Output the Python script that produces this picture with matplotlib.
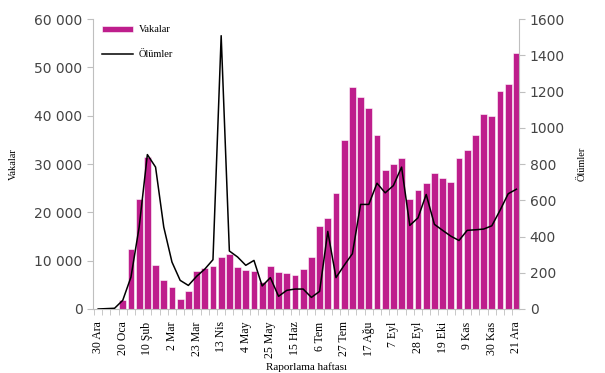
import numpy as np
import matplotlib
matplotlib.use("Agg")
import matplotlib.pyplot as plt
from matplotlib.ticker import FuncFormatter, FixedLocator

# weekly reporting data, week 0 = 30 Ara
cases = [0, 0, 0, 1800, 12500, 22800, 31400, 9000, 6000, 4550,
         2070, 3700, 7800, 8550, 8900, 10700, 11400, 8760, 8070, 7930,
         5520, 8900, 7660, 7520, 6970, 8180, 10830, 17250, 18770, 24080,
         35000, 46000, 43800, 41500, 36100, 28800, 29900, 31300, 22800, 24650,
         26150, 28150, 27050, 26350, 31300, 32900, 35900, 40400, 39900, 45200,
         46650, 52900]
deaths = [0, 2, 4, 48, 176, 452, 852, 783, 452, 259,
          158, 130, 180, 220, 272, 1508, 320, 287, 241, 268,
          127, 173, 70, 103, 110, 110, 64, 97, 428, 173,
          241, 305, 577, 577, 694, 641, 681, 783, 461, 503,
          632, 467, 434, 402, 378, 434, 437, 441, 459, 544,
          636, 661]
tick_labels = ["30 Ara", "20 Oca", "10 Şub", "2 Mar", "23 Mar", "13 Nis",
               "4 May", "25 May", "15 Haz", "6 Tem", "27 Tem", "17 Ağu",
               "7 Eyl", "28 Eyl", "19 Eki", "9 Kas", "30 Kas", "21 Ara"]

weeks = np.arange(len(cases))
bar_color = "#BE1E8C"
grey = "#BFBFBF"
serif = "Liberation Serif"

fig = plt.figure(figsize=(6.05, 3.73), dpi=100)
ax = fig.add_axes([0.1537, 0.1716, 0.7046, 0.7774])
ax2 = ax.twinx()

bars = ax.bar(weeks, cases, width=0.82, color=bar_color, edgecolor="white",
              linewidth=0.4, label="Vakalar", zorder=2)
line, = ax2.plot(weeks, deaths, color="black", lw=1.1, label="Ölümler", zorder=3)

ax.set_xlim(-0.63, 51.35)
ax.set_ylim(0, 60000)
ax2.set_ylim(0, 1600)
ax.set_yticks(np.arange(0, 60001, 10000))
ax2.set_yticks(np.arange(0, 1601, 200))
ax.yaxis.set_major_formatter(FuncFormatter(lambda v, p: f"{int(v):,}".replace(",", " ")))

ax.set_xticks(weeks[::3])
ax.set_xticklabels(tick_labels, rotation=90, fontfamily=serif, fontsize=8.5)
ax.tick_params(axis="x", which="major", length=0, pad=9)
ax.xaxis.set_minor_locator(FixedLocator(np.arange(-0.5, 51.6, 1.0)))
ax.tick_params(axis="x", which="minor", length=4, color=grey)

for a in (ax, ax2):
    for s in a.spines.values():
        s.set_visible(False)
    a.tick_params(axis="y", length=4, color=grey, labelsize=10, labelcolor="#444444")
ax.spines["left"].set_visible(True)
ax.spines["left"].set_color(grey)
ax.spines["bottom"].set_visible(True)
ax.spines["bottom"].set_color(grey)
ax2.spines["right"].set_visible(True)
ax2.spines["right"].set_color(grey)

ax.set_ylabel("Vakalar", fontfamily=serif, fontsize=7.5, labelpad=12)
ax2.set_ylabel("Ölümler", fontfamily=serif, fontsize=7.5, labelpad=9)
ax.set_xlabel("Raporlama haftası", fontfamily=serif, fontsize=8, labelpad=3)

leg = ax.legend([bars, line], ["Vakalar", "Ölümler"], loc="upper left",
                bbox_to_anchor=(0.0, 1.01), frameon=False,
                prop={"family": serif, "size": 7.5}, handlelength=2.9,
                labelspacing=1.5, handleheight=0.5, handletextpad=0.6)

fig.savefig("out.png", dpi=100)
